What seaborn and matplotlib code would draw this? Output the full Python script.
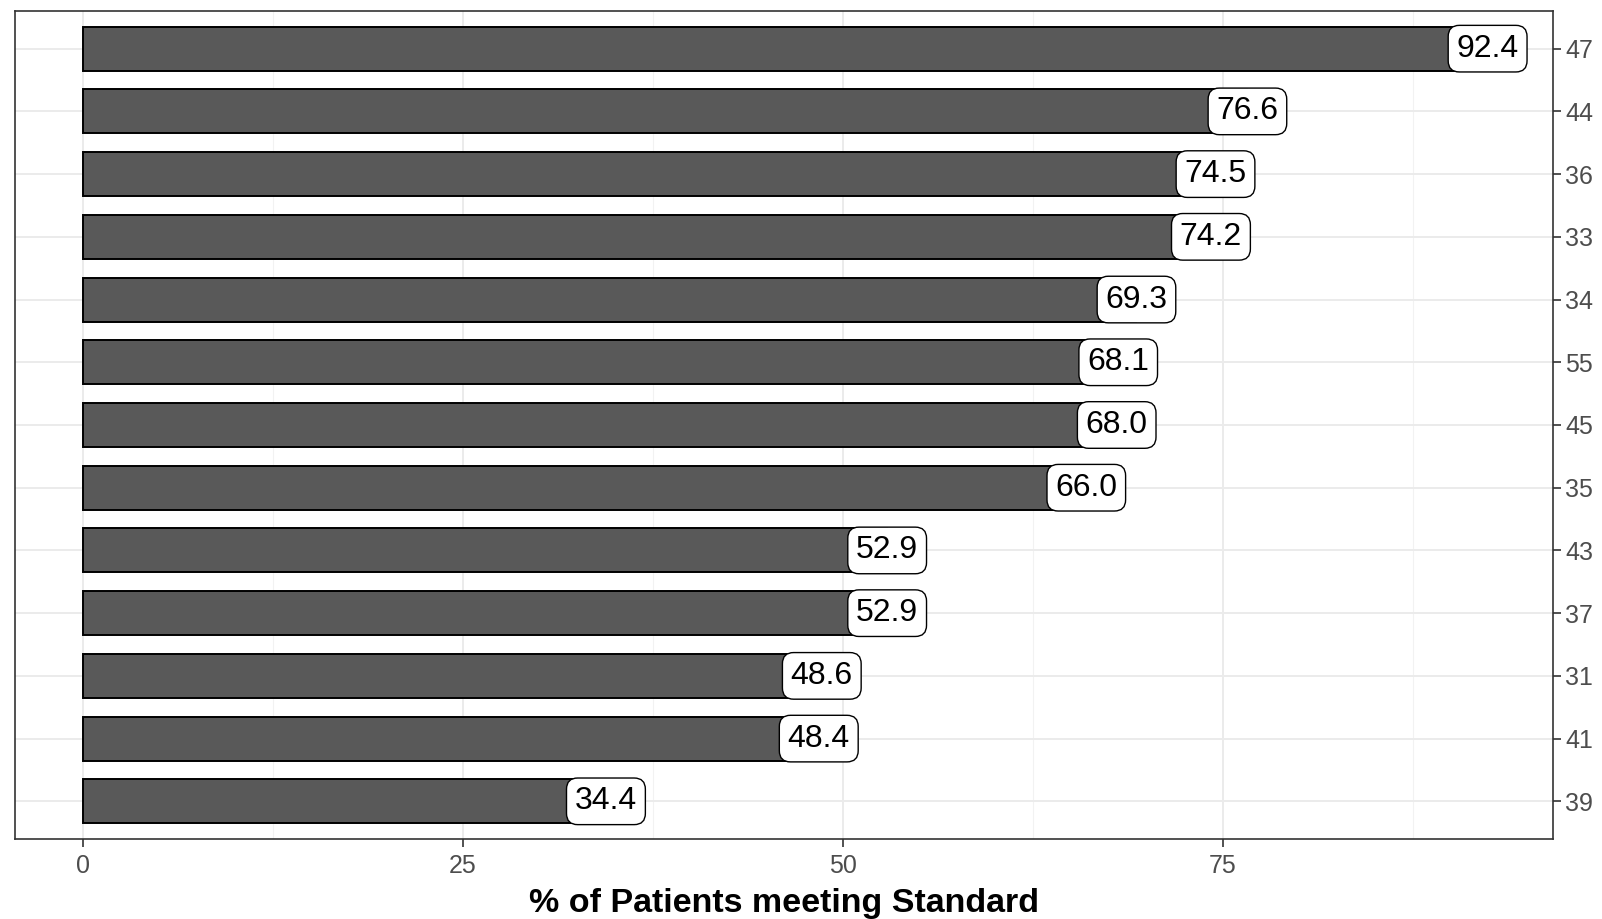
import matplotlib
matplotlib.use("Agg")
import matplotlib.pyplot as plt
import pandas as pd
import seaborn as sns
from matplotlib.ticker import MultipleLocator

# data, top to bottom as shown
sites = ["47", "44", "36", "33", "34", "55", "45", "35", "43", "37", "31", "41", "39"]
pct_meeting = [92.4, 76.6, 74.5, 74.2, 69.3, 68.1, 68.0, 66.0, 52.9, 52.9, 48.6, 48.4, 34.4]

sns.set_theme(style="whitegrid")
plt.rcParams["font.family"] = ["Liberation Sans", "DejaVu Sans"]

frame = pd.DataFrame({"site": sites, "pct": pct_meeting})

fig = plt.figure(figsize=(16.02, 9.19), dpi=100)
ax = fig.add_axes([0.0094, 0.0871, 0.9600, 0.9009])

sns.barplot(
    data=frame, x="pct", y="site", order=sites, orient="h",
    color="#595959", saturation=1, edgecolor="black", linewidth=1.4,
    width=0.7, ax=ax, zorder=3,
)

for i, value in enumerate(pct_meeting):
    ax.text(
        value, i, f"{value:.1f}", ha="center", va="center", fontsize=23,
        color="black", zorder=5,
        bbox=dict(boxstyle="round,pad=0.26,rounding_size=0.35", fc="white", ec="black", lw=1.0),
    )

ax.set_xlim(-4.47, 96.7)
ax.set_ylim(len(sites) - 0.4, -0.6)
ax.xaxis.set_major_locator(MultipleLocator(25))
ax.xaxis.set_minor_locator(MultipleLocator(12.5))
ax.set_xticks([0, 25, 50, 75])

ax.grid(which="major", color="#EBEBEB", linewidth=1.4, zorder=0)
ax.grid(which="minor", axis="x", color="#F2F2F2", linewidth=0.8, zorder=0)
ax.set_axisbelow(True)

ax.yaxis.tick_right()
ax.yaxis.set_label_position("right")
ax.tick_params(axis="y", which="major", right=True, left=False, length=6, width=1.2,
               color="#333333", labelsize=18, labelcolor="#4D4D4D", pad=3)
ax.tick_params(axis="x", which="major", bottom=True, length=6, width=1.2,
               color="#333333", labelsize=18, labelcolor="#4D4D4D", pad=5)
ax.tick_params(axis="x", which="minor", bottom=False)

for spine in ax.spines.values():
    spine.set_color("#333333")
    spine.set_linewidth(1.2)

ax.set_ylabel("")
ax.set_xlabel("% of Patients meeting Standard", fontsize=24.5, fontweight="bold",
              color="black", labelpad=7)

fig.savefig("out.png", dpi=100)
